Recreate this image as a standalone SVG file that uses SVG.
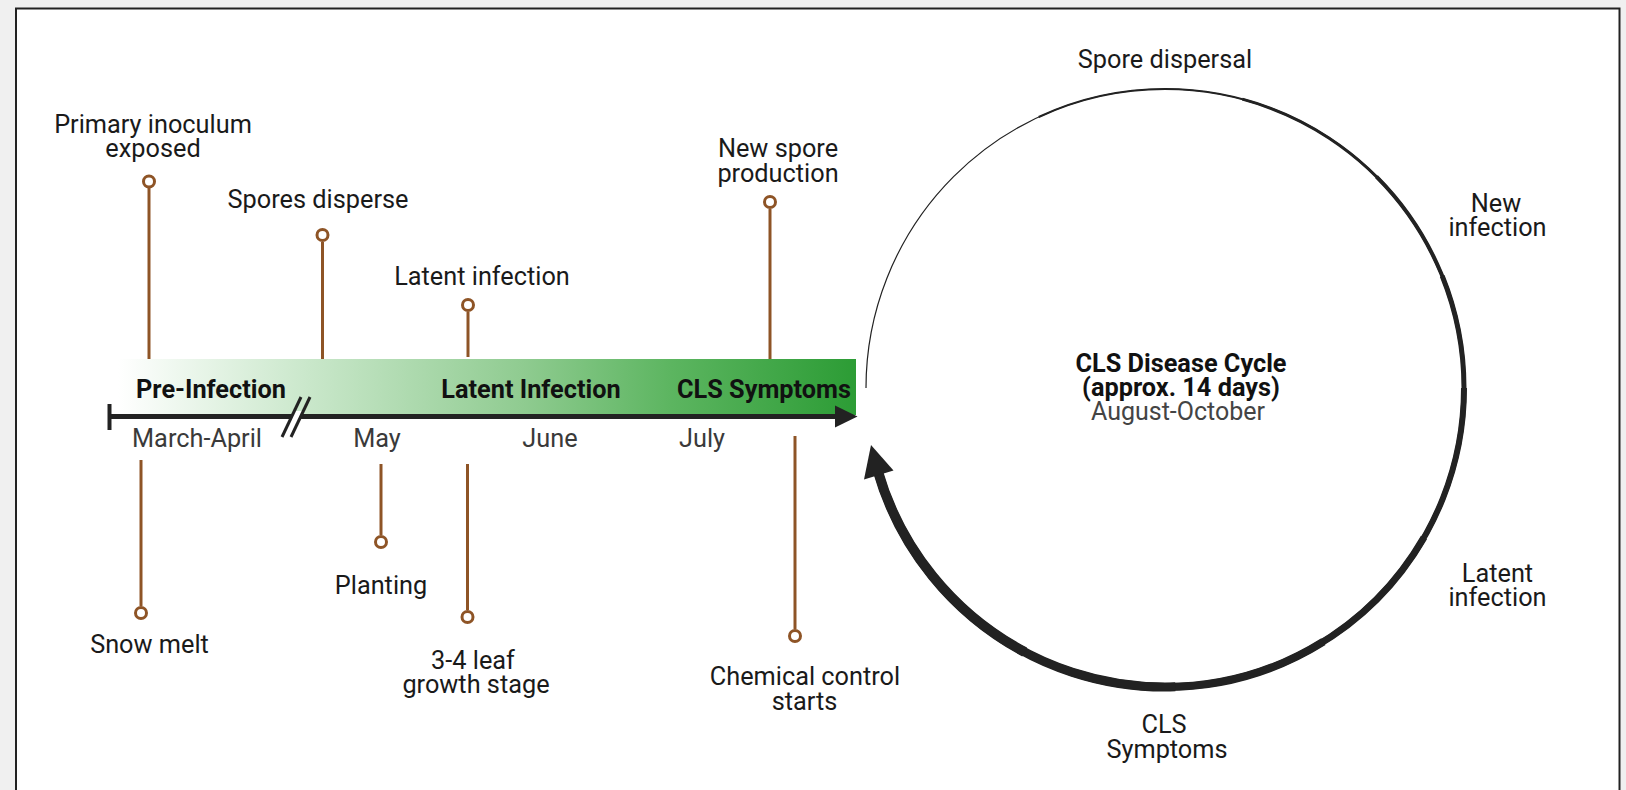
<svg xmlns="http://www.w3.org/2000/svg" width="1626" height="790" viewBox="0 0 1626 790">
<defs>
<style>
text{font-family:Roboto,"Liberation Sans",sans-serif;text-anchor:middle}
.t{font-size:25.3px;fill:#1a1a1a}
.m{font-size:25.3px;fill:#3a3a3a}
.b{font-size:25.3px;font-weight:bold;fill:#111}
.g{font-size:25px;fill:#444}
.pin line{stroke:#8e5426;stroke-width:3}
.pin circle{fill:#fff;stroke:#8e5426;stroke-width:3}
.cyc{fill:none;stroke:#222}
</style>
<linearGradient id="bar" gradientUnits="userSpaceOnUse" x1="118" y1="0" x2="856" y2="0">
<stop offset="0" stop-color="#ffffff"/>
<stop offset="0.25" stop-color="#cbe8cc"/>
<stop offset="0.55" stop-color="#8fcb90"/>
<stop offset="0.75" stop-color="#5cb560"/>
<stop offset="1" stop-color="#2c9c35"/>
</linearGradient>
</defs>
<rect width="1626" height="790" fill="#f0f0f0"/>
<rect x="16" y="8.5" width="1603.5" height="800" fill="#fff" stroke="#222" stroke-width="2"/>

<g id="timeline">
<rect x="118" y="359" width="738" height="56" fill="url(#bar)"/>
<line x1="109" y1="416.5" x2="837" y2="416.5" stroke="#222" stroke-width="5"/>
<line x1="109.5" y1="404" x2="109.5" y2="430" stroke="#222" stroke-width="4"/>
<polygon points="835,405.5 857.5,416.5 835,427.5" fill="#222"/>
<polygon points="289,422 294.5,411 303.5,411 298,422" fill="#fff"/>
<line x1="282" y1="437" x2="301" y2="397" stroke="#222" stroke-width="3"/>
<line x1="291" y1="437" x2="310" y2="397" stroke="#222" stroke-width="3"/>
<text class="b" x="211" y="397.5">Pre-Infection</text>
<text class="b" x="531" y="397.5">Latent Infection</text>
<text class="b" x="764" y="397.5">CLS Symptoms</text>
<text class="m" x="197" y="447">March-April</text>
<text class="m" x="377" y="447">May</text>
<text class="m" x="550" y="447">June</text>
<text class="m" x="702" y="447">July</text>
</g>

<g id="pin-primary-inoculum" class="pin">
<line x1="149" y1="188" x2="149" y2="359"/><circle cx="149" cy="181.5" r="5.5"/>
<text class="t" x="153" y="133">Primary inoculum</text>
<text class="t" x="153" y="157">exposed</text>
</g>
<g id="pin-spores-disperse" class="pin">
<line x1="322.5" y1="242" x2="322.5" y2="359"/><circle cx="322.5" cy="235" r="5.5"/>
<text class="t" x="318" y="208">Spores disperse</text>
</g>
<g id="pin-latent-infection" class="pin">
<line x1="468" y1="312" x2="468" y2="357"/><circle cx="468" cy="305" r="5.5"/>
<text class="t" x="482" y="285">Latent infection</text>
</g>
<g id="pin-new-spore" class="pin">
<line x1="770" y1="209" x2="770" y2="359"/><circle cx="770" cy="202" r="5.5"/>
<text class="t" x="778" y="157">New spore</text>
<text class="t" x="778" y="182">production</text>
</g>
<g id="pin-snow-melt" class="pin">
<line x1="141" y1="460" x2="141" y2="606"/><circle cx="141" cy="613" r="5.5"/>
<text class="t" x="149.5" y="653">Snow melt</text>
</g>
<g id="pin-planting" class="pin">
<line x1="381" y1="464" x2="381" y2="535"/><circle cx="381" cy="542" r="5.5"/>
<text class="t" x="381" y="594">Planting</text>
</g>
<g id="pin-leaf-stage" class="pin">
<line x1="467.5" y1="464" x2="467.5" y2="610"/><circle cx="467.5" cy="617" r="5.5"/>
<text class="t" x="473" y="669">3-4 leaf</text>
<text class="t" x="476" y="693">growth stage</text>
</g>
<g id="pin-chemical-control" class="pin">
<line x1="795" y1="436" x2="795" y2="629"/><circle cx="795" cy="636" r="5.5"/>
<text class="t" x="805" y="685">Chemical control</text>
<text class="t" x="804.5" y="710">starts</text>
</g>

<g id="cycle">
<circle class="cyc" cx="1165" cy="388" r="299" pathLength="360" stroke-width="1.2" stroke-dasharray="344 16" stroke-dashoffset="180"/>
<circle class="cyc" cx="1165" cy="388" r="299" pathLength="360" stroke-width="2" stroke-dasharray="279 81" stroke-dashoffset="115"/>
<circle class="cyc" cx="1165" cy="388" r="299" pathLength="360" stroke-width="3" stroke-dasharray="239 121" stroke-dashoffset="75"/>
<circle class="cyc" cx="1165" cy="388" r="299" pathLength="360" stroke-width="4" stroke-dasharray="209 151" stroke-dashoffset="45"/>
<circle class="cyc" cx="1165" cy="388" r="299" pathLength="360" stroke-width="5" stroke-dasharray="186 174" stroke-dashoffset="22"/>
<circle class="cyc" cx="1165" cy="388" r="299" pathLength="360" stroke-width="6" stroke-dasharray="164 196" stroke-dashoffset="0"/>
<circle class="cyc" cx="1165" cy="388" r="299" pathLength="360" stroke-width="7" stroke-dasharray="134 226" stroke-dashoffset="330"/>
<circle class="cyc" cx="1165" cy="388" r="299" pathLength="360" stroke-width="8" stroke-dasharray="106 254" stroke-dashoffset="302"/>
<circle class="cyc" cx="1165" cy="388" r="299" pathLength="360" stroke-width="9" stroke-dasharray="76 284" stroke-dashoffset="272"/>
<circle class="cyc" cx="1165" cy="388" r="299" pathLength="360" stroke-width="10" stroke-dasharray="46 314" stroke-dashoffset="242"/>
<polygon points="871,445 864,479.4 893.5,470.6" fill="#222"/>
</g>

<g id="cycle-labels">
<text class="t" x="1165" y="68">Spore dispersal</text>
<text class="t" x="1496" y="212">New</text>
<text class="t" x="1497.5" y="236">infection</text>
<text class="t" x="1497.5" y="582">Latent</text>
<text class="t" x="1497.5" y="606">infection</text>
<text class="t" x="1164" y="733">CLS</text>
<text class="t" x="1167" y="758">Symptoms</text>
<text class="b" x="1181" y="372">CLS Disease Cycle</text>
<text class="b" x="1181" y="396">(approx. 14 days)</text>
<text class="g" x="1178" y="420">August-October</text>
</g>
</svg>
